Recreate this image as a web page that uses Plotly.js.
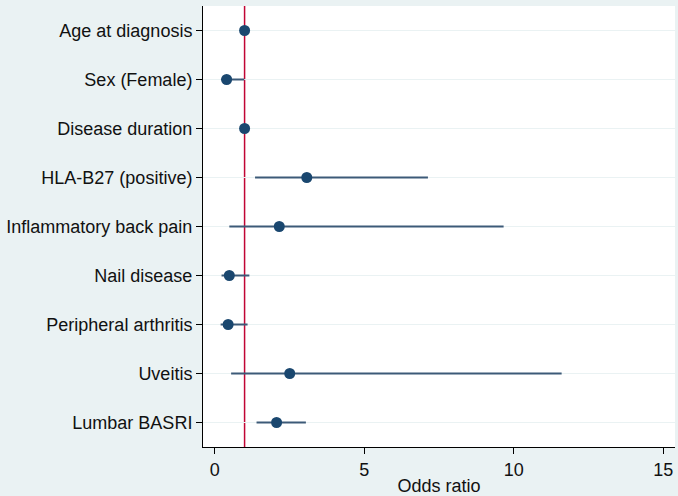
<!DOCTYPE html>
<html>
<head>
<meta charset="utf-8">
<script src="https://cdn.plot.ly/plotly-3.0.1.min.js"></script>
<style>html,body{margin:0;padding:0;background:#eaf2f3;}#chart{width:678px;height:496px;}</style>
</head>
<body>
<div id="chart"></div>
<script>
const categories = ["Age at diagnosis","Sex (Female)","Disease duration","HLA-B27 (positive)","Inflammatory back pain","Nail disease","Peripheral arthritis","Uveitis","Lumbar BASRI"];
const oddsRatio = [1.00, 0.40, 1.00, 3.08, 2.16, 0.49, 0.45, 2.51, 2.07];
const ciLower  = [0.97, 0.21, 0.98, 1.35, 0.49, 0.23, 0.20, 0.55, 1.40];
const ciUpper  = [1.03, 0.99, 1.02, 7.13, 9.66, 1.16, 1.10, 11.60, 3.05];
const xTickVals = [0, 5, 10, 15];
const nullValue = 1;

const navy = "#1a476f";
const trace = {
  type: "scatter",
  mode: "markers",
  x: oddsRatio,
  y: categories,
  marker: {color: navy, size: 11},
  error_x: {
    type: "data",
    symmetric: false,
    array: ciUpper.map((u, i) => u - oddsRatio[i]),
    arrayminus: ciLower.map((l, i) => oddsRatio[i] - l),
    width: 0,
    thickness: 2,
    color: "#3c5a78"
  },
  hoverinfo: "x+y"
};

const layout = {
  width: 678, height: 496,
  margin: {l: 203, r: 3, t: 6, b: 49},
  paper_bgcolor: "#eaf2f3",
  plot_bgcolor: "#ffffff",
  font: {family: "Liberation Sans, Arial, sans-serif", size: 18, color: "#111"},
  showlegend: false,
  xaxis: {
    range: [-0.39, 15.39],
    tickvals: xTickVals,
    ticks: "outside", ticklen: 6, tickcolor: "#000", tickwidth: 1,
    showgrid: false, zeroline: false,
    showline: true, linecolor: "#000", linewidth: 1,
    title: {text: "Odds ratio", standoff: 0, font: {size: 18}},
    tickfont: {size: 18}
  },
  yaxis: {
    type: "category",
    categoryorder: "array", categoryarray: categories,
    range: [8.5, -0.5],
    ticks: "outside", ticklen: 6, tickcolor: "#000", tickwidth: 1,
    showgrid: true, gridcolor: "#eaf2f3", gridwidth: 1.5,
    zeroline: false,
    showline: true, linecolor: "#000", linewidth: 1,
    ticklabelstandoff: 0,
    tickfont: {size: 18}
  },
  shapes: [{
    type: "line", xref: "x", yref: "paper",
    x0: nullValue, x1: nullValue, y0: 0, y1: 1,
    line: {color: "#c10534", width: 1.5},
    layer: "between"
  }]
};

Plotly.newPlot("chart", [trace], layout, {displayModeBar: false, staticPlot: true});
</script>
</body>
</html>
